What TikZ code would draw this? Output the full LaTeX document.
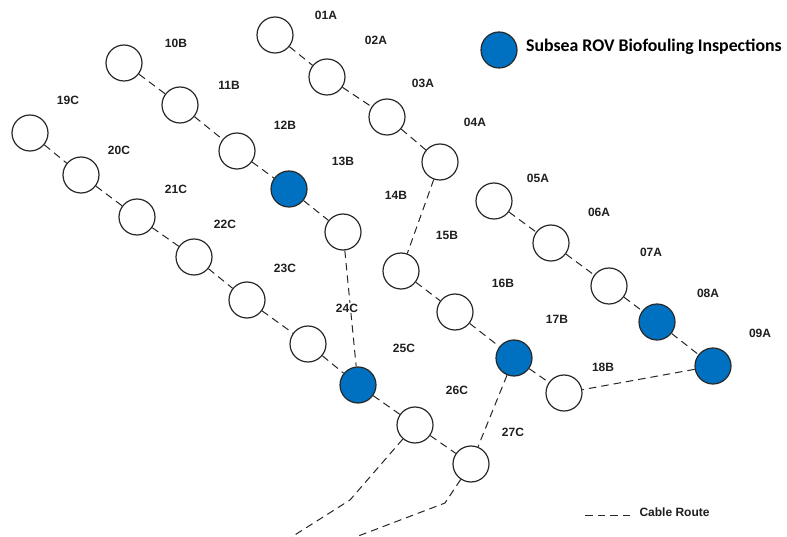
\documentclass[tikz,border=0pt]{standalone}
\usepackage{fontspec}
\setmainfont{Liberation Sans}
\newfontfamily\keyfont{Carlito}
\usetikzlibrary{positioning}
\definecolor{rovblue}{RGB}{0,112,192}
\definecolor{rim}{RGB}{40,40,40}
\begin{document}
\begin{tikzpicture}[x=1pt, y=-1pt,
  every node/.style={font=\fontsize{12}{14}\selectfont\bfseries, text=black!88},
  site/.style={circle, draw=rim, line width=1.2pt, fill=white, minimum size=36pt, inner sep=0pt},
  rov/.style={site, fill=rovblue},
  lbl/.style={inner sep=1pt, fill=white},
  cable/.style={line width=1pt, black!85, dash pattern=on 7.5pt off 5pt}]
\useasboundingbox (0,0) rectangle (787,537);
% A string
\node[site] (01A) at (275,35) {};
\node[site] (02A) at (327,77) {};
\node[site] (03A) at (387,117) {};
\node[site] (04A) at (440,162) {};
\node[site] (05A) at (494,201) {};
\node[site] (06A) at (551,243) {};
\node[site] (07A) at (609,286) {};
\node[rov]  (08A) at (657,322) {};
\node[rov]  (09A) at (713,366) {};
% B string
\node[site] (10B) at (124,63) {};
\node[site] (11B) at (180,105) {};
\node[site] (12B) at (237,151) {};
\node[rov]  (13B) at (289,189) {};
\node[site] (14B) at (343,232) {};
\node[site] (15B) at (401,271) {};
\node[site] (16B) at (455,312) {};
\node[rov]  (17B) at (514,358) {};
\node[site] (18B) at (564,393) {};
% C string
\node[site] (19C) at (30,133) {};
\node[site] (20C) at (81,175) {};
\node[site] (21C) at (137,217) {};
\node[site] (22C) at (194,257) {};
\node[site] (23C) at (247,300) {};
\node[site] (24C) at (308,344) {};
\node[rov]  (25C) at (358,385) {};
\node[site] (26C) at (415,425) {};
\node[site] (27C) at (471,464) {};
% cable routes
\draw[cable] (01A) -- (02A) -- (03A) -- (04A) -- (15B);
\draw[cable] (05A) -- (06A) -- (07A) -- (08A) -- (09A) -- (18B);
\draw[cable] (10B) -- (11B) -- (12B) -- (13B) -- (14B) -- (25C);
\draw[cable] (15B) -- (16B) -- (17B) -- (18B);
\draw[cable] (17B) -- (27C);
\draw[cable] (19C) -- (20C) -- (21C) -- (22C) -- (23C) -- (24C) -- (25C) -- (26C) -- (27C);
% export lines off the bottom edge
\coordinate (x26a) at (350,500);
\coordinate (x26b) at (290,538);
\coordinate (x27a) at (445,503);
\coordinate (x27b) at (353,538);
\draw[cable] (26C) -- (x26a) -- (x26b);
\draw[cable] (27C) -- (x27a) -- (x27b);
% labels
\node[lbl] (t01A) at (326,15) {01A};
\node[lbl] (t02A) at (376,40) {02A};
\node[lbl] (t03A) at (423,83) {03A};
\node[lbl] (t04A) at (475,122) {04A};
\node[lbl] (t05A) at (538,178) {05A};
\node[lbl] (t06A) at (599,212) {06A};
\node[lbl] (t07A) at (651,252) {07A};
\node[lbl] (t08A) at (708,293) {08A};
\node[lbl] (t09A) at (760,333) {09A};
\node[lbl] (t10B) at (176,43) {10B};
\node[lbl] (t11B) at (229,85) {11B};
\node[lbl] (t12B) at (285,125) {12B};
\node[lbl] (t13B) at (343,161) {13B};
\node[lbl] (t14B) at (396,195) {14B};
\node[lbl] (t15B) at (447,235) {15B};
\node[lbl] (t16B) at (503,283) {16B};
\node[lbl] (t17B) at (557,319) {17B};
\node[lbl] (t18B) at (603,367) {18B};
\node[lbl] (t19C) at (68,100) {19C};
\node[lbl] (t20C) at (119,150) {20C};
\node[lbl] (t21C) at (176,189) {21C};
\node[lbl] (t22C) at (225,224) {22C};
\node[lbl] (t23C) at (285,268) {23C};
\node[lbl] (t24C) at (347,308) {24C};
\node[lbl] (t25C) at (404,348) {25C};
\node[lbl] (t26C) at (457,390) {26C};
\node[lbl] (t27C) at (513,432) {27C};
% key
\node[rov] (key) at (499,50) {};
\node[right=5pt of key, yshift=3pt, font=\keyfont\fontsize{17.8}{20}\selectfont\bfseries, text=black] (keytext) {Subsea ROV Biofouling Inspections};
\coordinate (k1) at (585,515);
\coordinate (k2) at (630,515);
\draw[cable] (k1) -- (k2);
\node[anchor=west] (cabletext) at (636,512) {Cable Route};
\end{tikzpicture}
\end{document}
